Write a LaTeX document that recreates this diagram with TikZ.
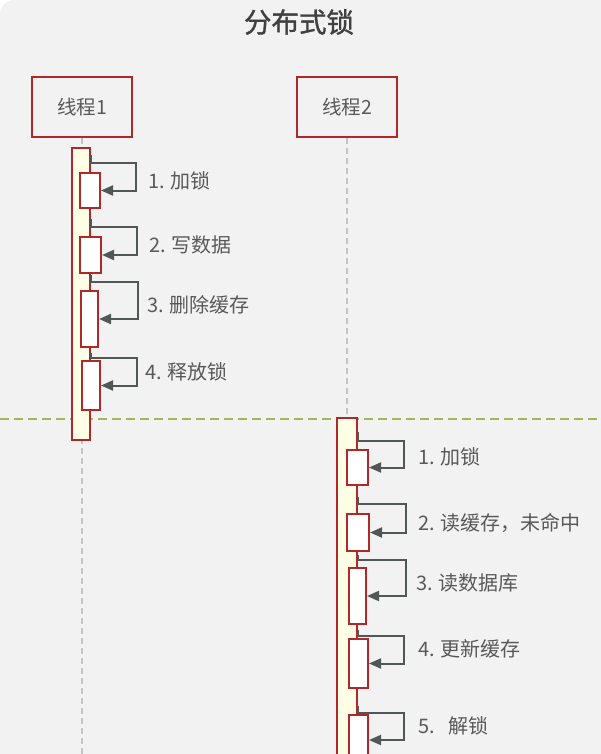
\documentclass[tikz,border=0pt]{standalone}
\usepackage{fontspec}
\setmainfont{Noto Sans CJK SC}
\newfontfamily\titlefont[FakeBold=1.2]{Noto Sans CJK SC}
\usetikzlibrary{arrows.meta}
\definecolor{bg}{HTML}{F2F2F2}
\definecolor{boxred}{HTML}{B0282A}
\definecolor{barfill}{HTML}{FFFFE6}
\definecolor{callgray}{HTML}{4F5757}
\definecolor{txtgray}{HTML}{595959}
\definecolor{titlegray}{HTML}{404040}
\definecolor{lifegray}{HTML}{C4C4C4}
\definecolor{sepgreen}{HTML}{9BBB59}
\begin{document}
\begin{tikzpicture}[x=1pt,y=-1pt,
 head/.style={draw=boxred, line width=2pt, minimum width=100pt, minimum height=60pt, inner sep=0pt, font=\fontsize{19.5}{21}\selectfont, text=txtgray},
 bar/.style={draw=boxred, fill=barfill, line width=2pt, inner sep=0pt},
 act/.style={draw=boxred, fill=white, line width=2pt, inner sep=0pt},
 call/.style={draw=callgray, line width=2pt, -{Triangle[length=12pt,width=10pt]}},
 lbl/.style={anchor=west, font=\fontsize{20}{22}\selectfont, text=txtgray, inner sep=0pt},
 life/.style={draw=lifegray, line width=1.5pt, dash pattern=on 6pt off 4pt}]
\useasboundingbox (0,0) rectangle (600,754);
\fill[bg, rounded corners=14pt] (0,0) rectangle (640,800);
\node[font=\titlefont\fontsize{27.5}{30}\selectfont, text=titlegray] (title) at (299,22) {分布式锁};
% heads
\node[head] (h1) at (82,107) {线程1};
\node[head] (h2) at (347,107) {线程2};
% lifelines
\coordinate (e1) at (82,754);
\draw[life] (h1.south) -- (e1);
% separator
\coordinate (gL) at (0,419);
\coordinate (gR) at (600,419);
\draw[sepgreen, line width=2pt, dash pattern=on 9pt off 5pt] (gL) -- (gR);
% bars
\node[bar, minimum width=18pt, minimum height=292pt] (b1) at (81,294) {};
\node[bar, minimum width=20pt, minimum height=382pt] (b2) at (347,609) {};
\draw[life] (h2.south) -- (b2.north);
% activations thread 1
\node[act, minimum width=20pt, minimum height=35pt] (s1) at (90,190.5) {};
\node[act, minimum width=21pt, minimum height=36pt] (s2) at (90.5,255) {};
\node[act, minimum width=17pt, minimum height=56pt] (s3) at (89.5,319) {};
\node[act, minimum width=18pt, minimum height=49pt] (s4) at (91,385.5) {};
% activations thread 2
\node[act, minimum width=21pt, minimum height=35pt] (t1) at (357.5,467.5) {};
\node[act, minimum width=22pt, minimum height=37pt] (t2) at (358,532.5) {};
\node[act, minimum width=17pt, minimum height=56pt] (t3) at (357.5,596) {};
\node[act, minimum width=19pt, minimum height=49pt] (t4) at (358.5,663.5) {};
\node[act, minimum width=19pt, minimum height=50pt] (t5) at (358.5,740) {};
% calls thread 1
\draw[call] (b1.east |- 0,155) |- (136,163) |- (s1.east);
\draw[call] (b1.east |- 0,219) |- (137,227) |- (s2.east);
\draw[call] (b1.east |- 0,275) |- (138,282) |- (s3.east);
\draw[call] (b1.east |- 0,353) |- (137,358) |- (s4.east);
% calls thread 2
\draw[call] (b2.east |- 0,432) |- (404,441) |- (t1.east);
\draw[call] (b2.east |- 0,497) |- (406,504) |- (t2.east);
\draw[call] (b2.east |- 0,555) |- (406,560) |- (t3.east);
\draw[call] (b2.east |- 0,630) |- (404,636) |- (t4.east);
\draw[call] (b2.east |- 0,706) |- (404,713) |- (t5.east);
% labels
\node[lbl] (l1) at (148,181) {1. 加锁};
\node[lbl] (l2) at (149,245) {2. 写数据};
\node[lbl] (l3) at (147,305) {3. 删除缓存};
\node[lbl] (l4) at (145,372) {4. 释放锁};
\node[lbl] (m1) at (418,457) {1. 加锁};
\node[lbl] (m2) at (418,523) {2. 读缓存，未命中};
\node[lbl] (m3) at (416,583) {3. 读数据库};
\node[lbl] (m4) at (418,649) {4. 更新缓存};
\node[lbl] (m5) at (418,726) {5.\ \ \ 解锁};
\end{tikzpicture}
\end{document}
